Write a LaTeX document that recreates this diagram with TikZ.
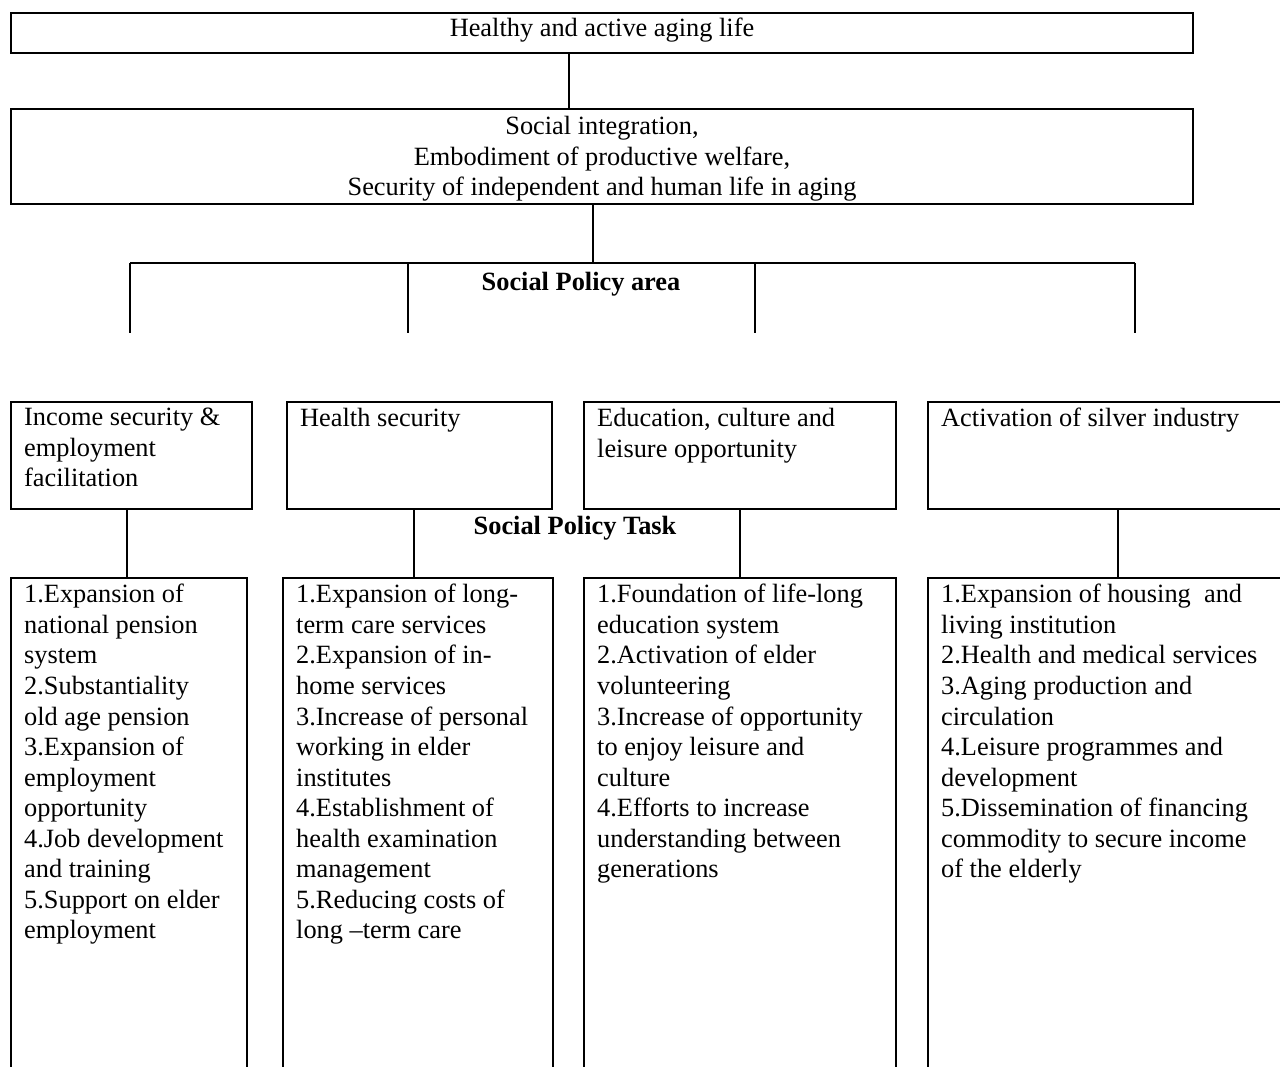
\documentclass[tikz,border=0pt]{standalone}
\usepackage{fontspec}
\setmainfont{Liberation Serif}
\usetikzlibrary{positioning}
\tikzset{
	plainbox/.style={draw, line width=0.9pt, anchor=north west, inner sep=0pt},
	areabox/.style={plainbox, minimum height=1.712cm},
	taskbox/.style={plainbox, minimum height=8.32cm},
	boxtext/.style={align=left, inner sep=0pt, below right=0.11cm and 0.22cm of #1.north west},
	headtext/.style={font=\fontsize{12}{13.9}\selectfont\bfseries},
	link/.style={line width=0.9pt}
}

\begin{document}
\begin{tikzpicture}[font=\fontsize{12}{13.9}\selectfont]
	%%%%% START %%%%%
	\clip (0, 0) rectangle (20.48, -17.072);
	
	\node[plainbox, minimum width=18.912cm, minimum height=0.64cm] (goal) at (0.16, -0.192) {};
	\node (goaltext) at ([yshift=0.05cm]goal.center) {Healthy and active aging life};
	
	\node[plainbox, minimum width=18.912cm, minimum height=1.52cm] (aim) at (0.16, -1.728) {};
	\node[align=center] (aimtext) at ([yshift=-0.04cm]aim.center) {Social integration,\\Embodiment of productive welfare,\\Security of independent and human life in aging};
	\draw[link] ([xshift=-0.528cm]goal.south) -- ([xshift=-0.528cm]aim.north);
	
	\coordinate (bus) at (9.488, -4.208);
	\coordinate (busL) at (2.08, -4.208);
	\coordinate (busR) at (18.16, -4.208);
	\draw[link] (bus |- aim.south) -- (bus);
	\draw[link] (busL) -- (busR);
	\foreach \x in {2.08, 6.528, 12.08, 18.16}
		\draw[link] (\x, -4.208) -- (\x, -5.328);
	\node[headtext] (areahead) at (9.296, -4.544) {Social Policy area};
	
	%%%%% AREAS %%%%%
	\node[areabox, minimum width=3.856cm] (areaA) at (0.16, -6.416) {};
	\node[areabox, minimum width=4.24cm] (areaB) at (4.576, -6.416) {};
	\node[areabox, minimum width=4.992cm] (areaC) at (9.328, -6.416) {};
	\node[areabox, minimum width=6.08cm] (areaD) at (14.832, -6.416) {};
	
	\node[boxtext=areaA] (areaAtext) {Income security \&\\employment\\facilitation};
	\node[boxtext=areaB] (areaBtext) {Health security};
	\node[boxtext=areaC] (areaCtext) {Education, culture and\\leisure opportunity};
	\node[boxtext=areaD] (areaDtext) {Activation of silver industry};
	
	\node[headtext] (taskhead) at (9.2, -8.448) {Social Policy Task};
	
	%%%%% TASKS %%%%%
	\node[taskbox, minimum width=3.776cm] (taskA) at (0.16, -9.232) {};
	\node[taskbox, minimum width=4.32cm] (taskB) at (4.512, -9.232) {};
	\node[taskbox, minimum width=4.992cm] (taskC) at (9.328, -9.232) {};
	\node[taskbox, minimum width=6.08cm] (taskD) at (14.832, -9.232) {};
	
	\draw[link] ([xshift=-0.072cm]areaA.south) -- ([xshift=-0.072cm]areaA.south |- taskA.north);
	\draw[link] ([xshift=-0.088cm]areaB.south) -- ([xshift=-0.088cm]areaB.south |- taskB.north);
	\draw[link] (areaC.south) -- (areaC.south |- taskC.north);
	\draw[link] (areaD.south) -- (areaD.south |- taskD.north);
	
	\node[boxtext=taskA] (taskAtext) {1.Expansion of\\national pension\\system\\2.Substantiality\\old age pension\\3.Expansion of\\employment\\opportunity\\4.Job development\\and training\\5.Support on elder\\employment};
	\node[boxtext=taskB] (taskBtext) {1.Expansion of long-\\term care services\\2.Expansion of in-\\home services\\3.Increase of personal\\working in elder\\institutes\\4.Establishment of\\health examination\\management\\5.Reducing costs of\\long --term care};
	\node[boxtext=taskC] (taskCtext) {1.Foundation of life-long\\education system\\2.Activation of elder\\volunteering\\3.Increase of opportunity\\to enjoy leisure and\\culture\\4.Efforts to increase\\understanding between\\generations};
	\node[boxtext=taskD] (taskDtext) {1.Expansion of housing\ \ and\\living institution\\2.Health and medical services\\3.Aging production and\\circulation\\4.Leisure programmes and\\development\\5.Dissemination of financing\\commodity to secure income\\of the elderly};
	
	%%%%% END %%%%%
\end{tikzpicture}
\end{document}
